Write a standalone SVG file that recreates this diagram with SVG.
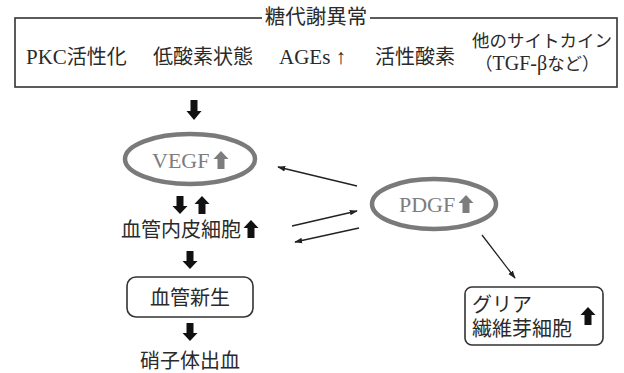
<svg xmlns="http://www.w3.org/2000/svg" width="624" height="373" viewBox="0 0 624 373">
<defs>
<style>
text{font-family:"Liberation Serif","Noto Sans CJK JP",serif;fill:#2a2a2a}
.t20{font-size:20px}
.t17{font-size:17.5px}
.lat{font-size:20px}
.g{fill:#7d7d7d;font-size:22px}
.box{fill:none;stroke:#333;stroke-width:1.6}
.ell{fill:none;stroke:#7a7a7a;stroke-width:4.5}
.thin{fill:none;stroke:#222;stroke-width:1.3;marker-end:url(#ah)}
</style>
<marker id="ah" viewBox="0 0 10 10" refX="9" refY="5" markerWidth="8" markerHeight="8" markerUnits="userSpaceOnUse" orient="auto">
<path d="M0,1.5 L10,5 L0,8.5 Z" fill="#222"/>
</marker>
<path id="up" d="M0,-9 L7.5,-1 L3.5,-1 L3.5,9 L-3.5,9 L-3.5,-1 L-7.5,-1 Z"/>
</defs>
<rect width="624" height="373" fill="#fff"/>

<g id="top">
<rect class="box" x="15" y="18" width="602" height="69"/>
<rect x="262" y="8" width="108" height="20" fill="#fff"/>
<text class="t20" x="316" y="24" text-anchor="middle" style="font-size:20.5px">糖代謝異常</text>
<text class="t20" x="26" y="64"><tspan style="font-size:21px">PKC</tspan>活性化</text>
<text class="t20" x="153" y="64">低酸素状態</text>
<text class="t20" x="279" y="64" style="font-size:21px">AGEs ↑</text>
<text class="t20" x="375" y="64">活性酸素</text>
<text class="t17" x="472" y="47">他のサイトカイン</text>
<text class="t17" x="475" y="70">（<tspan class="lat">TGF-β</tspan>など）</text>
</g>

<g id="vegf">
<ellipse class="ell" cx="190" cy="159" rx="65" ry="25"/>
<text class="g" x="152" y="168">VEGF</text>
<use href="#up" x="221" y="160" fill="#7d7d7d"/>
</g>

<g id="endo">
<text class="t20" x="121" y="237">血管内皮細胞</text>
<use href="#up" x="251" y="229" fill="#111"/>
</g>

<g id="angio">
<rect class="box" x="127" y="277" width="126" height="40" rx="9"/>
<text class="t20" x="190" y="305" text-anchor="middle">血管新生</text>
</g>

<g id="hemo">
<text class="t20" x="190" y="368" text-anchor="middle">硝子体出血</text>
</g>

<g id="pdgf">
<ellipse class="ell" cx="434" cy="204" rx="62" ry="25"/>
<text class="g" x="399" y="212">PDGF</text>
<use href="#up" x="466" y="204" fill="#7d7d7d"/>
</g>

<g id="glia">
<rect class="box" x="465" y="287" width="138" height="58" rx="7"/>
<text class="t20" x="472" y="312">グリア</text>
<text class="t20" x="472" y="336">繊維芽細胞</text>
<use href="#up" x="588" y="316" fill="#111"/>
</g>

<g id="connectors">
<use href="#up" transform="translate(194,110) scale(1,-1.1)" fill="#111"/>
<use href="#up" transform="translate(180,205) scale(1,-1)" fill="#111"/>
<use href="#up" x="202" y="205" fill="#111"/>
<use href="#up" transform="translate(190,260) scale(1,-1)" fill="#111"/>
<use href="#up" transform="translate(190,332) scale(1,-1)" fill="#111"/>
<line class="thin" x1="357" y1="186" x2="278" y2="167"/>
<line class="thin" x1="292" y1="226" x2="357" y2="211"/>
<line class="thin" x1="359" y1="228" x2="295" y2="242"/>
<line class="thin" x1="482" y1="235" x2="515" y2="278"/>
</g>
</svg>
